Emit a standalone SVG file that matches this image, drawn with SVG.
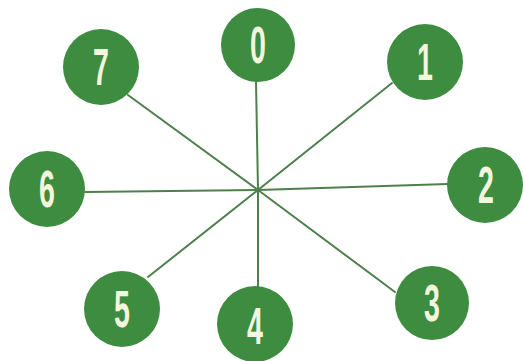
<svg xmlns="http://www.w3.org/2000/svg" width="523" height="361" viewBox="0 0 523 361">
<style>
.bg{fill:#ffffff}
.edge{stroke:#4e7f4c;stroke-width:2;fill:none;stroke-linecap:round}
.node circle{fill:#3d8c40}
.node text{fill:#f3f6dc;font-family:"Liberation Sans",Arial,sans-serif;font-weight:bold;font-size:51px;text-anchor:middle}
</style>
<rect class="bg" x="0" y="0" width="523" height="361"/>
<g id="connectors">
<line class="edge" x1="258" y1="190" x2="256" y2="82"/>
<line class="edge" x1="258" y1="190" x2="392" y2="83"/>
<line class="edge" x1="258" y1="190" x2="448" y2="184"/>
<line class="edge" x1="258" y1="190" x2="395" y2="292"/>
<line class="edge" x1="258" y1="190" x2="258" y2="288"/>
<line class="edge" x1="258" y1="190" x2="148" y2="277"/>
<line class="edge" x1="258" y1="190" x2="85" y2="192"/>
<line class="edge" x1="258" y1="190" x2="128" y2="95"/>
</g>
<g id="node0" class="node"><circle cx="258" cy="45" r="37"/><text transform="translate(258,63) scale(0.56,1)">0</text></g>
<g id="node1" class="node"><circle cx="425" cy="62" r="38"/><text transform="translate(425,80) scale(0.56,1)">1</text></g>
<g id="node2" class="node"><circle cx="485" cy="185" r="38"/><text transform="translate(486,203) scale(0.56,1)">2</text></g>
<g id="node3" class="node"><circle cx="432" cy="303" r="37"/><text transform="translate(432,321) scale(0.56,1)">3</text></g>
<g id="node4" class="node"><circle cx="255" cy="324" r="38"/><text transform="translate(255,344) scale(0.56,1)">4</text></g>
<g id="node5" class="node"><circle cx="122" cy="309" r="38"/><text transform="translate(122,327) scale(0.56,1)">5</text></g>
<g id="node6" class="node"><circle cx="47" cy="189" r="38"/><text transform="translate(47,207) scale(0.56,1)">6</text></g>
<g id="node7" class="node"><circle cx="101" cy="67" r="38"/><text transform="translate(101,85) scale(0.56,1)">7</text></g>
</svg>
